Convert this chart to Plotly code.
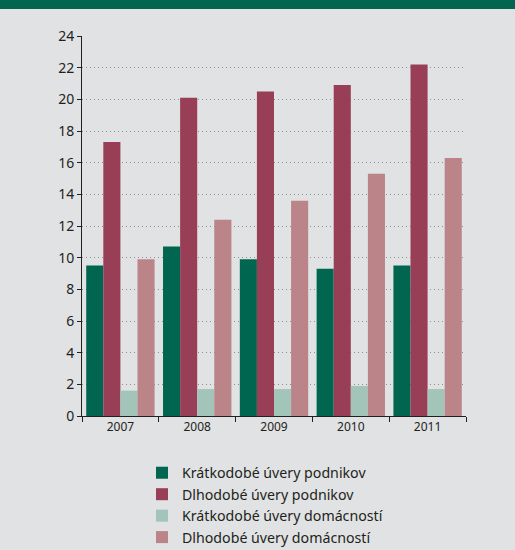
import plotly.graph_objects as go

# Loan growth by type, 2007-2011
years = ["2007", "2008", "2009", "2010", "2011"]
kratkodobe_podniky = [9.5, 10.7, 9.9, 9.3, 9.5]
dlhodobe_podniky = [17.3, 20.1, 20.5, 20.9, 22.2]
kratkodobe_domacnosti = [1.6, 1.7, 1.7, 1.9, 1.7]
dlhodobe_domacnosti = [9.9, 12.4, 13.6, 15.3, 16.3]

series = [
    ("Krátkodobé úvery podnikov", kratkodobe_podniky, "#00664f"),
    ("Dlhodobé úvery podnikov", dlhodobe_podniky, "#983f57"),
    ("Krátkodobé úvery domácností", kratkodobe_domacnosti, "#a3c4b8"),
    ("Dlhodobé úvery domácností", dlhodobe_domacnosti, "#bb8488"),
]

W, H = 515, 550
ML, MR, MT, MB = 82, 49, 36, 134
PW, PH = W - ML - MR, H - MT - MB

fig = go.Figure()
for name, vals, col in series:
    fig.add_trace(go.Bar(x=years, y=vals, name=name,
                         marker=dict(color=col, line=dict(width=0))))

bg = "#e1e2e3"
font_family = "Noto Sans, Open Sans, sans-serif"

fig.update_layout(
    width=W, height=H,
    margin=dict(l=ML, r=MR, t=MT, b=MB, autoexpand=False),
    paper_bgcolor=bg, plot_bgcolor=bg,
    barmode="group", bargap=0.11, bargroupgap=0,
    font=dict(family=font_family, size=12, color="#231f20"),
    showlegend=True,
    legend=dict(
        orientation="v", x=(142 - ML) / PW, xanchor="left",
        y=-(457 - MT - PH) / PH, yanchor="top",
        bgcolor="rgba(0,0,0,0)", font=dict(size=14.2, color="#231f20"),
        tracegroupgap=0, itemwidth=30,
    ),
    xaxis=dict(
        showline=True, linecolor="#231f20", linewidth=1,
        ticks="outside", tickson="boundaries", ticklen=5,
        tickcolor="#231f20", showgrid=False,
        tickfont=dict(size=12, color="#231f20"),
    ),
    yaxis=dict(
        range=[0, 24], dtick=2, tick0=0,
        showline=True, linecolor="#231f20", linewidth=1,
        ticks="outside", ticklen=4, tickcolor="#231f20",
        showgrid=True, gridcolor="#8f8f8f", griddash="1px,3px", gridwidth=1,
        zeroline=False,
        tickfont=dict(size=14, color="#231f20"),
    ),
)

# dark green header band across the top of the page
fig.add_shape(type="rect", xref="paper", yref="paper",
              x0=-ML / PW, x1=1 + MR / PW,
              y0=1 + (MT - 9) / PH, y1=1 + MT / PH + 0.01,
              fillcolor="#00664f", line=dict(width=0), layer="above")

fig.write_html("out.html")
